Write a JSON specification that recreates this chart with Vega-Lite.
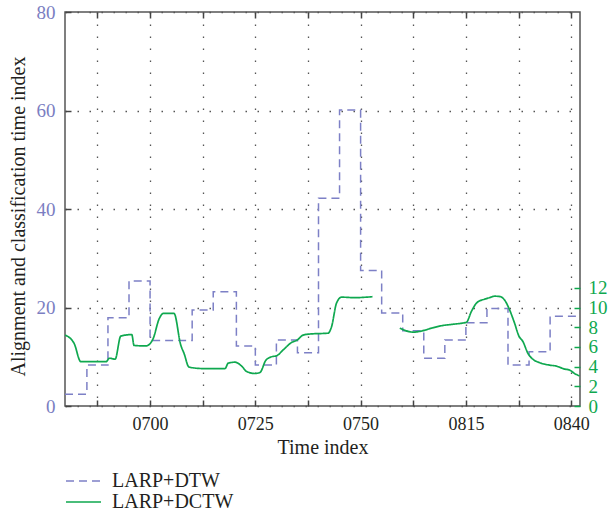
{
  "$schema": "https://vega.github.io/schema/vega-lite/v6.json",
  "width": 515,
  "height": 394,
  "autosize": {"type": "none"},
  "padding": {"left": 65, "top": 12, "right": 29, "bottom": 107},
  "config": {
    "font": "Liberation Serif",
    "view": {"stroke": "#555", "strokeWidth": 1.5},
    "axis": {"domain": false, "labelFont": "Liberation Serif", "titleFont": "Liberation Serif", "labelFontSize": 19, "titleFontSize": 20, "titleFontWeight": "normal", "tickColor": "#444", "tickWidth": 1.5, "gridColor": "#555", "gridWidth": 1.3, "gridDash": [1.5, 10.5]},
    "legend": {"labelFont": "Liberation Serif"}
  },
  "datasets": {
    "dtw": [
      {"t": 39.8, "v": 2.4, "series": "LARP+DTW"},
      {"t": 45, "v": 8.3, "series": "LARP+DTW"},
      {"t": 50, "v": 17.9, "series": "LARP+DTW"},
      {"t": 55, "v": 25.4, "series": "LARP+DTW"},
      {"t": 60, "v": 13.3, "series": "LARP+DTW"},
      {"t": 70, "v": 19.5, "series": "LARP+DTW"},
      {"t": 75, "v": 23.2, "series": "LARP+DTW"},
      {"t": 80.5, "v": 12.2, "series": "LARP+DTW"},
      {"t": 85, "v": 8.3, "series": "LARP+DTW"},
      {"t": 90, "v": 13.4, "series": "LARP+DTW"},
      {"t": 95, "v": 10.8, "series": "LARP+DTW"},
      {"t": 100, "v": 42.2, "series": "LARP+DTW"},
      {"t": 105, "v": 60.1, "series": "LARP+DTW"},
      {"t": 110, "v": 27.5, "series": "LARP+DTW"},
      {"t": 115, "v": 18.9, "series": "LARP+DTW"},
      {"t": 120, "v": 15.3, "series": "LARP+DTW"},
      {"t": 125, "v": 9.7, "series": "LARP+DTW"},
      {"t": 130, "v": 13.4, "series": "LARP+DTW"},
      {"t": 135, "v": 16.9, "series": "LARP+DTW"},
      {"t": 140, "v": 19.8, "series": "LARP+DTW"},
      {"t": 145, "v": 8.3, "series": "LARP+DTW"},
      {"t": 150, "v": 11.0, "series": "LARP+DTW"},
      {"t": 155, "v": 18.2, "series": "LARP+DTW"},
      {"t": 162.1, "v": 18.2, "series": "LARP+DTW"}
    ],
    "dctw": [
      {"t": 39.84, "v": 7.2, "seg": "a", "series": "LARP+DCTW"},
      {"t": 41.97, "v": 6.35, "seg": "a", "series": "LARP+DCTW"},
      {"t": 43.56, "v": 4.5, "seg": "a", "series": "LARP+DCTW"},
      {"t": 49.56, "v": 4.5, "seg": "a", "series": "LARP+DCTW"},
      {"t": 50.35, "v": 4.85, "seg": "a", "series": "LARP+DCTW"},
      {"t": 51.7, "v": 4.75, "seg": "a", "series": "LARP+DCTW"},
      {"t": 53.05, "v": 7.1, "seg": "a", "series": "LARP+DCTW"},
      {"t": 55.66, "v": 7.25, "seg": "a", "series": "LARP+DCTW"},
      {"t": 56.2, "v": 6.15, "seg": "a", "series": "LARP+DCTW"},
      {"t": 59.05, "v": 6.1, "seg": "a", "series": "LARP+DCTW"},
      {"t": 60.64, "v": 6.75, "seg": "a", "series": "LARP+DCTW"},
      {"t": 62.21, "v": 8.9, "seg": "a", "series": "LARP+DCTW"},
      {"t": 63.15, "v": 9.4, "seg": "a", "series": "LARP+DCTW"},
      {"t": 65.69, "v": 9.4, "seg": "a", "series": "LARP+DCTW"},
      {"t": 67.28, "v": 6.2, "seg": "a", "series": "LARP+DCTW"},
      {"t": 68.06, "v": 5.35, "seg": "a", "series": "LARP+DCTW"},
      {"t": 69.25, "v": 3.95, "seg": "a", "series": "LARP+DCTW"},
      {"t": 72.64, "v": 3.8, "seg": "a", "series": "LARP+DCTW"},
      {"t": 77.79, "v": 3.8, "seg": "a", "series": "LARP+DCTW"},
      {"t": 78.57, "v": 4.35, "seg": "a", "series": "LARP+DCTW"},
      {"t": 80.16, "v": 4.45, "seg": "a", "series": "LARP+DCTW"},
      {"t": 81.75, "v": 4.05, "seg": "a", "series": "LARP+DCTW"},
      {"t": 82.94, "v": 3.5, "seg": "a", "series": "LARP+DCTW"},
      {"t": 84.91, "v": 3.3, "seg": "a", "series": "LARP+DCTW"},
      {"t": 86.09, "v": 3.4, "seg": "a", "series": "LARP+DCTW"},
      {"t": 87.51, "v": 4.65, "seg": "a", "series": "LARP+DCTW"},
      {"t": 88.87, "v": 5.0, "seg": "a", "series": "LARP+DCTW"},
      {"t": 90.05, "v": 5.1, "seg": "a", "series": "LARP+DCTW"},
      {"t": 91.62, "v": 5.7, "seg": "a", "series": "LARP+DCTW"},
      {"t": 93.61, "v": 6.45, "seg": "a", "series": "LARP+DCTW"},
      {"t": 94.94, "v": 6.7, "seg": "a", "series": "LARP+DCTW"},
      {"t": 96.36, "v": 7.2, "seg": "a", "series": "LARP+DCTW"},
      {"t": 97.78, "v": 7.3, "seg": "a", "series": "LARP+DCTW"},
      {"t": 102.29, "v": 7.4, "seg": "a", "series": "LARP+DCTW"},
      {"t": 103.1, "v": 8.05, "seg": "a", "series": "LARP+DCTW"},
      {"t": 104.28, "v": 10.45, "seg": "a", "series": "LARP+DCTW"},
      {"t": 105.47, "v": 11.05, "seg": "a", "series": "LARP+DCTW"},
      {"t": 108.62, "v": 11.0, "seg": "a", "series": "LARP+DCTW"},
      {"t": 112.82, "v": 11.1, "seg": "a", "series": "LARP+DCTW"},
      {"t": 119.3, "v": 7.9, "seg": "b", "series": "LARP+DCTW"},
      {"t": 122.45, "v": 7.5, "seg": "b", "series": "LARP+DCTW"},
      {"t": 124.82, "v": 7.65, "seg": "b", "series": "LARP+DCTW"},
      {"t": 126.82, "v": 7.9, "seg": "b", "series": "LARP+DCTW"},
      {"t": 129.19, "v": 8.15, "seg": "b", "series": "LARP+DCTW"},
      {"t": 131.94, "v": 8.3, "seg": "b", "series": "LARP+DCTW"},
      {"t": 135.12, "v": 8.5, "seg": "b", "series": "LARP+DCTW"},
      {"t": 136.31, "v": 9.6, "seg": "b", "series": "LARP+DCTW"},
      {"t": 137.64, "v": 10.5, "seg": "b", "series": "LARP+DCTW"},
      {"t": 139.46, "v": 10.85, "seg": "b", "series": "LARP+DCTW"},
      {"t": 140.65, "v": 11.0, "seg": "b", "series": "LARP+DCTW"},
      {"t": 141.83, "v": 11.15, "seg": "b", "series": "LARP+DCTW"},
      {"t": 143.18, "v": 11.1, "seg": "b", "series": "LARP+DCTW"},
      {"t": 144.2, "v": 10.75, "seg": "b", "series": "LARP+DCTW"},
      {"t": 145.39, "v": 9.75, "seg": "b", "series": "LARP+DCTW"},
      {"t": 146.57, "v": 8.4, "seg": "b", "series": "LARP+DCTW"},
      {"t": 147.59, "v": 7.1, "seg": "b", "series": "LARP+DCTW"},
      {"t": 148.54, "v": 6.55, "seg": "b", "series": "LARP+DCTW"},
      {"t": 149.73, "v": 5.35, "seg": "b", "series": "LARP+DCTW"},
      {"t": 150.91, "v": 4.75, "seg": "b", "series": "LARP+DCTW"},
      {"t": 152.5, "v": 4.4, "seg": "b", "series": "LARP+DCTW"},
      {"t": 154.88, "v": 4.15, "seg": "b", "series": "LARP+DCTW"},
      {"t": 156.47, "v": 4.05, "seg": "b", "series": "LARP+DCTW"},
      {"t": 158.44, "v": 3.75, "seg": "b", "series": "LARP+DCTW"},
      {"t": 159.62, "v": 3.65, "seg": "b", "series": "LARP+DCTW"},
      {"t": 160.81, "v": 3.3, "seg": "b", "series": "LARP+DCTW"},
      {"t": 162.0, "v": 3.05, "seg": "b", "series": "LARP+DCTW"}
    ]
  },
  "layer": [
    {
      "data": {"name": "dtw"},
      "mark": {"type": "line", "interpolate": "step-after", "strokeWidth": 1.5},
      "encoding": {
        "x": {
          "field": "t", "type": "quantitative",
          "scale": {"domain": [39.8, 162.1], "nice": false, "zero": false},
          "axis": {
            "orient": "bottom", "title": "Time index", "titleColor": "#231f20",
            "values": [47.5, 60, 72.5, 85, 97.5, 110, 122.5, 135, 147.5, 160],
            "labelExpr": "datum.value % 25 == 10 ? '0' + (6 + floor(datum.value / 60)) + (datum.value % 60 < 10 ? '0' : '') + (datum.value % 60) : ''",
            "labelColor": "#231f20", "labelFont": "Liberation Serif", "labelFontSize": 18, "tickSize": -6, "labelPadding": 15, "labelBaseline": "top",
            "grid": true, "titleY": 47, "titleBaseline": "alphabetic"
          }
        },
        "y": {
          "field": "v", "type": "quantitative",
          "scale": {"domain": [0, 80], "nice": false},
          "axis": {
            "orient": "left", "title": "Alignment and classification time index", "titleColor": "#231f20",
            "values": [0, 20, 40, 60, 80], "labelColor": "#7b7ec2", "labelFont": "Liberation Serif", "tickSize": -6, "labelPadding": 16,
            "grid": true, "titleX": -41, "titleY": 204, "titleAngle": -90, "titleBaseline": "alphabetic", "titleAlign": "center"
          }
        },
        "color": {
          "field": "series", "type": "nominal",
          "scale": {"domain": ["LARP+DTW", "LARP+DCTW"], "range": ["#7d80c6", "#0fa84f"]},
          "legend": {"orient": "none", "legendX": 0, "legendY": 459, "title": null, "direction": "vertical", "symbolType": "stroke", "symbolSize": 1225, "symbolStrokeWidth": 1.6, "clipHeight": 20, "labelFontSize": 20, "labelFont": "Liberation Serif", "labelColor": "#231f20", "labelOffset": 10, "rowPadding": 1}
        },
        "strokeDash": {
          "field": "series", "type": "nominal",
          "scale": {"domain": ["LARP+DTW", "LARP+DCTW"], "range": [[8, 5], [1, 0]]},
          "legend": {"orient": "none", "legendX": 0, "legendY": 459, "title": null, "direction": "vertical", "symbolType": "stroke", "symbolSize": 1225, "symbolStrokeWidth": 1.6, "clipHeight": 20, "labelFontSize": 20, "labelFont": "Liberation Serif", "labelColor": "#231f20", "labelOffset": 10, "rowPadding": 1}
        }
      }
    },
    {
      "data": {"name": "dctw"},
      "mark": {"type": "line", "interpolate": "monotone", "strokeWidth": 1.7},
      "encoding": {
        "x": {
          "field": "t", "type": "quantitative",
          "axis": {"orient": "top", "title": null, "labels": false, "values": [47.5, 60, 72.5, 85, 97.5, 110, 122.5, 135, 147.5, 160], "tickSize": -6, "grid": false}
        },
        "y": {
          "field": "v", "type": "quantitative",
          "scale": {"domain": [0, 40], "nice": false},
          "axis": {"orient": "right", "title": null, "values": [0, 2, 4, 6, 8, 10, 12], "labelColor": "#0fa84f", "labelFont": "Liberation Serif", "tickColor": "#0fa84f", "tickSize": -6, "labelPadding": 14, "grid": false}
        },
        "detail": {"field": "seg", "type": "nominal"},
        "color": {"field": "series", "type": "nominal"},
        "strokeDash": {"field": "series", "type": "nominal"}
      }
    }
  ],
  "resolve": {"scale": {"y": "independent"}, "axis": {"x": "independent"}}
}
